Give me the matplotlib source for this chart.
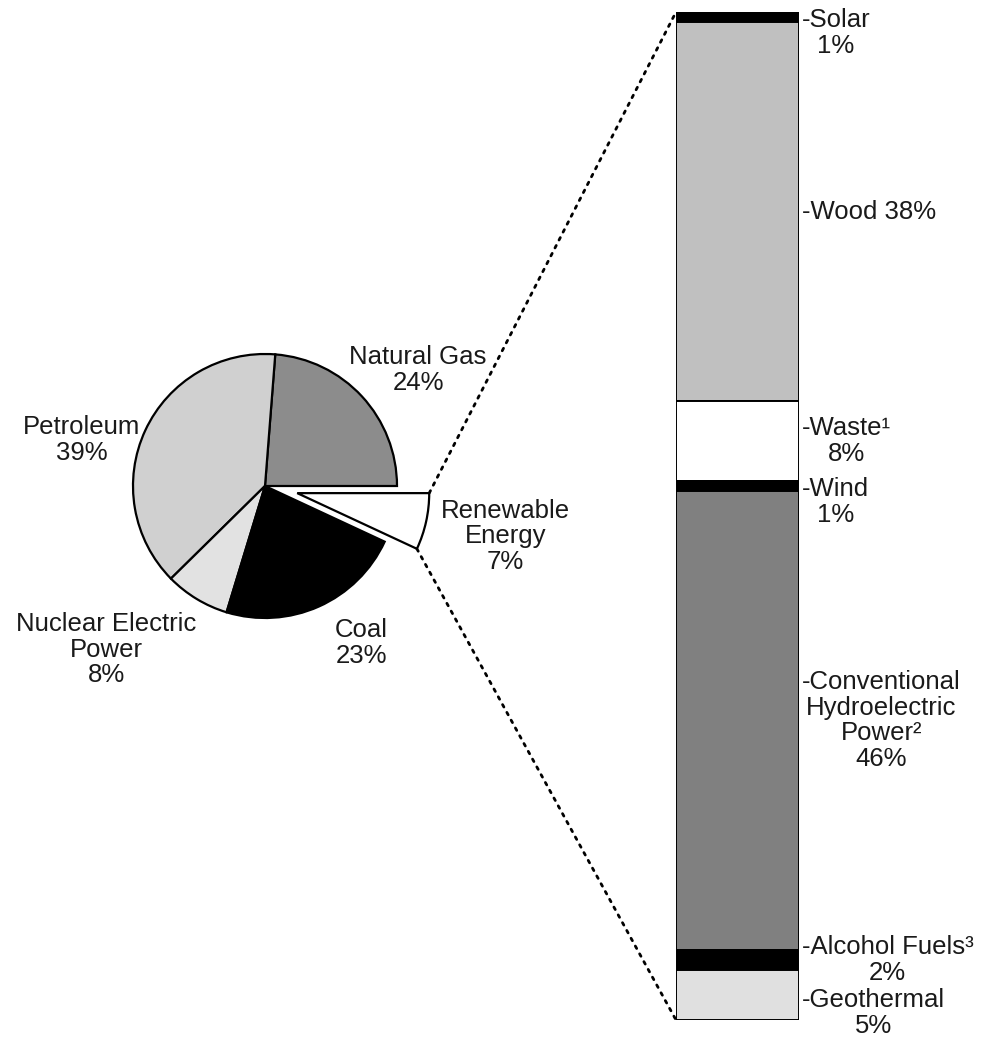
import matplotlib
matplotlib.use("Agg")
import matplotlib.pyplot as plt
from matplotlib.patches import ConnectionPatch
import numpy as np

plt.rcParams['font.family'] = ['Liberation Sans', 'DejaVu Sans']

# Energy consumption by source (percent)
sources = ["Natural Gas", "Petroleum", "Nuclear Electric\nPower", "Coal", "Renewable\nEnergy"]
source_pct = [24, 39, 8, 23, 7]
source_colors = ["#8c8c8c", "#d0d0d0", "#e2e2e2", "#000000", "#ffffff"]
source_explode = [0, 0, 0, 0, 0.25]
# label centres, in pie radius units
source_label_xy = [(1.16, 0.88), (-1.39, 0.35), (-1.20, -1.24), (0.73, -1.19), (1.82, -0.38)]

# Renewable energy by source (percent)
renewables = ["Solar", "Wood", "Waste\u00b9", "Wind",
              "Conventional\nHydroelectric\nPower\u00b2", "Alcohol Fuels\u00b3", "Geothermal"]
renewable_pct = [1, 38, 8, 1, 46, 2, 5]
renewable_colors = ["#000000", "#c0c0c0", "#ffffff", "#000000", "#808080", "#000000", "#e0e0e0"]
renewable_sep = ["\n", " ", "\n", "\n", "\n", "\n", "\n"]
# how each label sits against its segment
renewable_anchor = ["first", "center", "center", "first", "center", "center", "edge"]

TEXT = "#1a1a1a"
FS = 18.5
LS = 1.08

W, H = 984, 1039
fig = plt.figure(figsize=(W / 100, H / 100), dpi=100)


def px_axes(x0, y0, x1, y1):
    return fig.add_axes([x0 / W, 1 - y1 / H, (x1 - x0) / W, (y1 - y0) / H])


# ---- pie ----
ax_pie = px_axes(1, 222, 529, 750)
wedges, _ = ax_pie.pie(source_pct, colors=source_colors, startangle=0, counterclock=True,
                       explode=source_explode, radius=1,
                       wedgeprops=dict(edgecolor="black", linewidth=1.6))
ax_pie.set_xlim(-2, 2)
ax_pie.set_ylim(-2, 2)
ax_pie.set_aspect("equal")
ax_pie.axis("off")

for name, pct, (lx, ly) in zip(sources, source_pct, source_label_xy):
    ax_pie.text(lx, ly, f"{name}\n{pct}%", ha="center", va="center",
                multialignment="center", fontsize=FS, linespacing=LS, color=TEXT)

# ---- stacked bar ----
ax_bar = px_axes(676, 12, 799, 1020)
total = sum(renewable_pct)
bottoms = np.concatenate([[0], np.cumsum(renewable_pct)[:-1]])
ax_bar.bar(0, renewable_pct, bottom=bottoms, width=1, color=renewable_colors,
           edgecolor="black", linewidth=1.4)
ax_bar.set_xlim(-0.5, 0.5)
ax_bar.set_ylim(total, 0)
ax_bar.axis("off")

for name, pct, sep, b, anchor in zip(renewables, renewable_pct, renewable_sep, bottoms, renewable_anchor):
    label = f"-{name}{sep}{pct}%"
    kw = dict(textcoords="offset points", ha="left", multialignment="center",
              fontsize=FS, linespacing=LS, color=TEXT, annotation_clip=False)
    if anchor == "first":
        # first line level with a thin segment
        ax_bar.annotate(label, xy=(0.5, b + pct / 2), xytext=(2, FS * 0.35), va="top", **kw)
    elif anchor == "edge":
        # block sits around the segment's lower edge
        ax_bar.annotate(label, xy=(0.5, b + pct), xytext=(2, 5), va="center", **kw)
    else:
        ax_bar.annotate(label, xy=(0.5, b + pct / 2), xytext=(2, 0), va="center", **kw)

# ---- dotted connectors from the exploded wedge to the bar ----
w = wedges[-1]
cx, cy = w.center
r = w.r
top_pt = (cx + r * np.cos(np.radians(w.theta2)), cy + r * np.sin(np.radians(w.theta2)))
bot_pt = (cx + r * np.cos(np.radians(w.theta1)), cy + r * np.sin(np.radians(w.theta1)))
for pt, by in [(top_pt, 0), (bot_pt, total)]:
    con = ConnectionPatch(xyA=pt, coordsA=ax_pie.transData, xyB=(-0.5, by), coordsB=ax_bar.transData,
                          linestyle=(0, (1, 2.2)), linewidth=2, color="black")
    fig.add_artist(con)

fig.savefig("out.png", dpi=100, facecolor="white")
